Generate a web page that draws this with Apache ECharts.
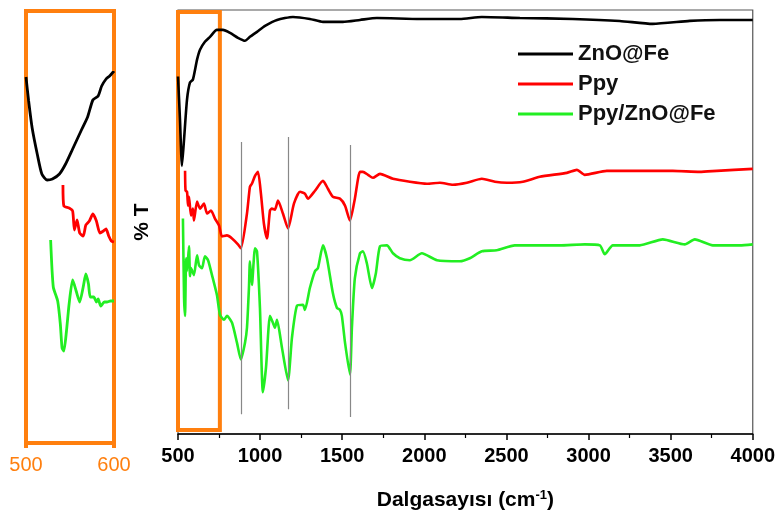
<!DOCTYPE html>
<html>
<head>
<meta charset="utf-8">
<script src="https://cdn.jsdelivr.net/npm/echarts@6/dist/echarts.min.js"></script>
<style>
  * { margin: 0; padding: 0; }
  body { background: #fff; }
</style>
</head>
<body>
<!-- chart container -->
<div id="main" style="width: 778px; height: 516px"></div>
<script>
// main spectra: wavenumber (cm-1) and %T (arbitrary offset units)
var znoWn = [500, 512, 524, 537, 555, 573, 591, 616, 634, 664, 695, 737, 774, 817, 865, 908, 938, 981, 1030, 1103, 1200, 1303, 1383, 1504, 1608, 1711, 1973, 2216, 2350, 2582, 2904, 3190, 3391, 3616, 3799, 4000];
var znoT = [360, 317, 270, 297, 337, 354, 357, 377, 387, 395, 400, 407, 407, 404, 399, 396, 400, 405, 411, 417, 420, 418, 415, 415, 417, 419, 418, 418, 420, 419, 418, 416, 413, 416, 417, 417];

var ppyWn = [543, 546, 555, 561, 567, 579, 591, 597, 616, 634, 658, 677, 701, 725, 750, 768, 798, 829, 865, 883, 920, 938, 950, 969, 987, 1005, 1023, 1042, 1060, 1072, 1090, 1109, 1139, 1170, 1206, 1243, 1273, 1291, 1334, 1383, 1413, 1443, 1486, 1517, 1547, 1577, 1608, 1626, 1657, 1687, 1730, 1809, 1912, 2016, 2095, 2174, 2259, 2350, 2430, 2503, 2600, 2703, 2868, 2929, 2977, 3111, 3312, 3513, 3677, 3781, 4000];
var ppyT = [265, 245, 244, 230, 239, 220, 227, 215, 234, 227, 232, 222, 225, 217, 210, 199, 200, 197, 191, 187, 222, 249, 252, 260, 264, 242, 212, 197, 225, 227, 226, 235, 222, 207, 232, 244, 242, 237, 245, 255, 247, 239, 237, 230, 215, 237, 264, 264, 261, 258, 262, 257, 254, 252, 253, 251, 253, 257, 254, 253, 254, 259, 263, 266, 261, 265, 265, 265, 264, 265, 267];

var compWn = [530, 537, 543, 549, 555, 567, 573, 579, 597, 616, 628, 646, 664, 683, 707, 737, 756, 780, 798, 829, 859, 883, 908, 920, 932, 938, 950, 969, 981, 999, 1017, 1036, 1060, 1078, 1090, 1103, 1133, 1170, 1194, 1224, 1261, 1273, 1303, 1334, 1352, 1383, 1407, 1443, 1468, 1486, 1498, 1517, 1547, 1559, 1577, 1608, 1626, 1650, 1681, 1705, 1730, 1772, 1809, 1851, 1912, 1985, 2077, 2216, 2277, 2350, 2441, 2551, 2824, 2977, 3069, 3099, 3148, 3312, 3452, 3586, 3647, 3757, 3921, 4000];
var compT = [217, 137, 119, 177, 164, 189, 159, 167, 160, 180, 170, 167, 179, 175, 160, 140, 120, 115, 119, 112, 92, 75, 92, 107, 147, 174, 150, 187, 184, 127, 42, 67, 119, 112, 107, 115, 87, 54, 97, 129, 130, 125, 147, 164, 167, 190, 177, 142, 127, 125, 119, 92, 60, 107, 157, 182, 184, 172, 147, 162, 189, 190, 182, 177, 175, 182, 175, 174, 177, 184, 185, 190, 190, 191, 190, 181, 190, 190, 196, 191, 196, 190, 190, 191];

// inset 500-600 cm-1 (own vertical scale)
var znoInsetWn = [500, 503, 507, 513, 518, 524, 530, 538, 545, 553, 563, 570, 576, 582, 586, 591, 595, 600];
var znoInsetT = [366, 342, 315, 288, 269, 263, 264, 269, 279, 294, 313, 326, 343, 347, 357, 364, 367, 372];
var ppyInsetWn = [542, 543, 549, 553, 555, 558, 561, 565, 568, 572, 576, 580, 584, 588, 591, 594, 597, 600];
var ppyInsetT = [258, 237, 235, 232, 213, 223, 210, 207, 218, 222, 229, 222, 210, 212, 214, 207, 202, 201];
var compInsetWn = [528, 531, 536, 539, 541, 543, 546, 549, 553, 557, 561, 565, 568, 571, 573, 577, 580, 582, 585, 589, 592, 596, 600];
var compInsetT = [203, 156, 142, 119, 95, 92, 112, 139, 163, 152, 141, 156, 169, 159, 146, 146, 141, 144, 137, 141, 141, 142, 142];

// marked bands
var bandWn = [883, 1170, 1547];
var bandLow = [20, 25, 17];
var bandHigh = [294, 299, 291];
var boxWn = [500, 755];

var names = ["ZnO@Fe", "Ppy", "Ppy/ZnO@Fe"];
var colors = ["#000000", "#ff0000", "#22ee22"];
var orange = "#ff7f0e";
var font = "Arial, 'Liberation Sans', sans-serif";

function pairs(xs, ys) {
  var out = [];
  for (var i = 0; i < xs.length; i++) {
    out.push([xs[i], ys[i]]);
  }
  return out;
}

var bandLines = [];
for (var i = 0; i < bandWn.length; i++) {
  bandLines.push([{ coord: [bandWn[i], bandLow[i]] }, { coord: [bandWn[i], bandHigh[i]] }]);
}

var mainData = [pairs(znoWn, znoT), pairs(ppyWn, ppyT), pairs(compWn, compT)];
var insetData = [pairs(znoInsetWn, znoInsetT), pairs(ppyInsetWn, ppyInsetT), pairs(compInsetWn, compInsetT)];

var series = [];
for (var k = 0; k < 3; k++) {
  series.push({
    name: names[k], type: "line", xAxisIndex: 0, yAxisIndex: 0,
    data: mainData[k], showSymbol: false, smooth: 0.2,
    lineStyle: { color: colors[k], width: 2.6 }, itemStyle: { color: colors[k] },
  });
  series.push({
    name: names[k], type: "line", xAxisIndex: 1, yAxisIndex: 1,
    data: insetData[k], showSymbol: false, smooth: 0.2,
    lineStyle: { color: colors[k], width: 2.8 }, itemStyle: { color: colors[k] },
  });
}
// gray guide lines + orange zoom box
series.push({
  type: "line", xAxisIndex: 0, yAxisIndex: 0, data: [], z: 10, silent: true,
  markLine: {
    symbol: "none", silent: true, label: { show: false },
    lineStyle: { color: "#888", width: 1.2, type: "solid" },
    data: bandLines,
  },
  markArea: {
    silent: true,
    itemStyle: { color: "rgba(0,0,0,0)", borderColor: orange, borderWidth: 4 },
    data: [[{ coord: [boxWn[0], 4] }, { coord: [boxWn[1], 425] }]],
  },
});

function plain(v) {
  return String(v);
}

var chart = echarts.init(document.getElementById("main"));
chart.setOption({
  animation: false,
  textStyle: { fontFamily: font },
  legend: {
    data: names, orient: "vertical", left: 513, top: 38, itemGap: 8,
    icon: "rect", itemWidth: 55, itemHeight: 3,
    textStyle: { fontSize: 22, fontWeight: "bold", color: "#111", fontFamily: font },
  },
  grid: [
    { left: 178, right: 25, top: 10, bottom: 79, show: true, borderColor: "#555", borderWidth: 1.2 },
    { left: 26, right: 664, top: 11, bottom: 73, show: true, borderColor: orange, borderWidth: 4 },
  ],
  xAxis: [
    {
      gridIndex: 0, type: "value", min: 500, max: 4000, interval: 500,
      axisLine: { show: true, lineStyle: { color: "#000", width: 1.5 } },
      axisTick: { show: true, length: 6, lineStyle: { color: "#000", width: 1.5 } },
      minorTick: { show: true, splitNumber: 2, length: 4, lineStyle: { color: "#000", width: 1.2 } },
      splitLine: { show: false },
      axisLabel: { fontSize: 20, fontWeight: "bold", color: "#000", margin: 12, fontFamily: font, formatter: plain },
      name: "Dalgasayısı (cm{sup|-1})", nameLocation: "middle", nameGap: 55,
      nameTextStyle: {
        fontSize: 21, fontWeight: "bold", color: "#000", fontFamily: font,
        rich: { sup: { fontSize: 13, fontWeight: "bold", verticalAlign: "top", padding: [0, 0, 10, 0], fontFamily: font } },
      },
    },
    {
      gridIndex: 1, type: "value", min: 500, max: 600, interval: 100,
      axisLine: { show: false },
      axisTick: { show: true, length: 5, lineStyle: { color: orange, width: 4 } },
      splitLine: { show: false },
      axisLabel: { fontSize: 20, color: orange, margin: 12, fontFamily: font, formatter: plain },
    },
  ],
  yAxis: [
    {
      gridIndex: 0, type: "value", min: 0, max: 427,
      axisLine: { show: false }, axisTick: { show: false }, axisLabel: { show: false }, splitLine: { show: false },
      name: "% T", nameLocation: "middle", nameRotate: 90, nameGap: 25,
      nameTextStyle: { fontSize: 21, fontWeight: "bold", color: "#000", fontFamily: font },
    },
    {
      gridIndex: 1, type: "value", min: 0, max: 432,
      axisLine: { show: false }, axisTick: { show: false }, axisLabel: { show: false }, splitLine: { show: false },
    },
  ],
  series: series,
});
</script>
</body>
</html>
